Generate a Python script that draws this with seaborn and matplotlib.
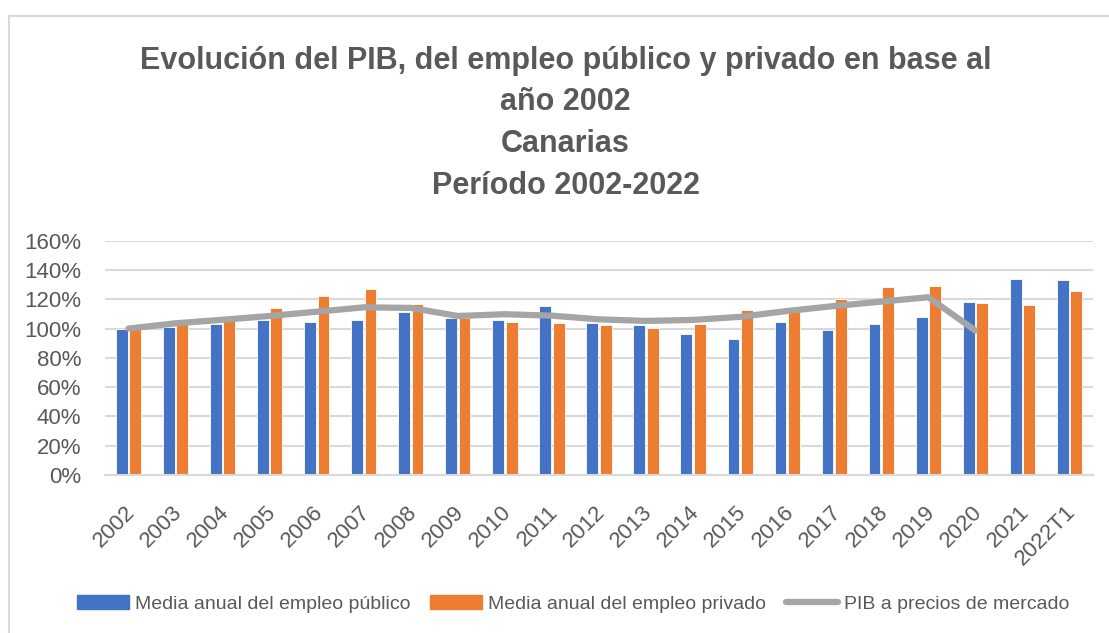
import matplotlib
matplotlib.use("Agg")
import matplotlib.pyplot as plt
import matplotlib.patches as mpatches
import matplotlib.transforms as mtransforms
from matplotlib.lines import Line2D
from matplotlib.ticker import PercentFormatter
import seaborn as sns
import pandas as pd

# Data (2002 = 100%)
years = ["2002", "2003", "2004", "2005", "2006", "2007", "2008", "2009", "2010", "2011",
         "2012", "2013", "2014", "2015", "2016", "2017", "2018", "2019", "2020", "2021", "2022T1"]
empleo_publico = [1.000, 1.013, 1.034, 1.060, 1.043, 1.058, 1.113, 1.075, 1.061, 1.154, 1.036,
                  1.022, 0.961, 0.929, 1.043, 0.988, 1.029, 1.081, 1.184, 1.337, 1.334]
empleo_privado = [1.000, 1.059, 1.086, 1.139, 1.220, 1.270, 1.170, 1.073, 1.043, 1.038, 1.025,
                  1.002, 1.034, 1.125, 1.140, 1.202, 1.286, 1.291, 1.175, 1.159, 1.257]
pib = [1.000, 1.036, 1.060, 1.086, 1.115, 1.145, 1.141, 1.086, 1.098, 1.088, 1.063,
       1.052, 1.059, 1.080, 1.120, 1.154, 1.184, 1.214, 0.986]

lab_pub = "Media anual del empleo público"
lab_priv = "Media anual del empleo privado"
lab_pib = "PIB a precios de mercado"

BLUE = "#4472C4"
ORANGE = "#ED7D31"
GRAY = "#A5A5A5"
TEXT = "#595959"
GRID = "#D9D9D9"

sns.set_style("white")
plt.rcParams['font.family'] = ['Liberation Sans', 'DejaVu Sans']

df = pd.DataFrame({
    "year": years * 2,
    "value": empleo_publico + empleo_privado,
    "serie": [lab_pub] * len(years) + [lab_priv] * len(years),
})

fig = plt.figure(figsize=(11.09, 6.33), dpi=100)
ax = fig.add_axes([105 / 1109, 1 - 475 / 633, (1093 - 105) / 1109, (475 - 240.7) / 633])

sns.barplot(data=df, x="year", y="value", hue="serie", palette=[BLUE, ORANGE],
            saturation=1, width=0.57, gap=0.12, edgecolor="white", linewidth=0.6,
            legend=False, ax=ax, zorder=2)
sns.lineplot(x=list(range(len(pib))), y=pib, color=GRAY, linewidth=4.5,
             solid_capstyle="round", solid_joinstyle="round", ax=ax, zorder=3)

ax.set_xlim(-0.5, len(years) - 0.5)
ax.set_ylim(0, 1.6)
ax.set_yticks([i * 0.2 for i in range(9)])
ax.yaxis.set_major_formatter(PercentFormatter(1.0, decimals=0))
ax.grid(axis="y", color=GRID, linewidth=1.5, zorder=0)
ax.set_axisbelow(True)
for s in ["top", "right", "left"]:
    ax.spines[s].set_visible(False)
ax.spines["bottom"].set_color(GRID)
ax.spines["bottom"].set_linewidth(1.5)
ax.set_xlabel("")
ax.set_ylabel("")
ax.tick_params(axis="both", length=0, colors=TEXT, labelsize=16)
ax.tick_params(axis="y", pad=17)
ax.set_xticks(range(len(years)))
ax.set_xticklabels(years, rotation=45, ha="right", va="top", rotation_mode="anchor")
ax.tick_params(axis="x", pad=19)
shift = mtransforms.ScaledTranslation(-4 / 100, 0, fig.dpi_scale_trans)
for lbl in ax.get_xticklabels():
    lbl.set_transform(lbl.get_transform() + shift)

fig.text(0.51, 1 - 46 / 633,
         "Evolución del PIB, del empleo público y privado en base al\naño 2002\nCanarias\nPeríodo 2002-2022",
         ha="center", va="top", fontsize=22, fontweight="bold", color=TEXT, linespacing=1.5)

handles = [mpatches.Patch(color=BLUE), mpatches.Patch(color=ORANGE),
           Line2D([], [], color=GRAY, linewidth=4.5, solid_capstyle="round")]
leg = fig.legend(handles, [lab_pub, lab_priv, lab_pib], loc="center",
                 bbox_to_anchor=(573 / 1109, 1 - 604 / 633), ncol=3, frameon=False,
                 fontsize=14, handlelength=2.7, handleheight=0.67, handletextpad=0.3,
                 columnspacing=1.0, labelcolor=TEXT)

fig.patches.append(mpatches.Rectangle((9 / 1109, -0.1), 1.2, 1 - 16 / 633 + 0.1,
                                      transform=fig.transFigure, fill=False,
                                      edgecolor=GRID, linewidth=1.5))

fig.savefig("out.png", dpi=100)
